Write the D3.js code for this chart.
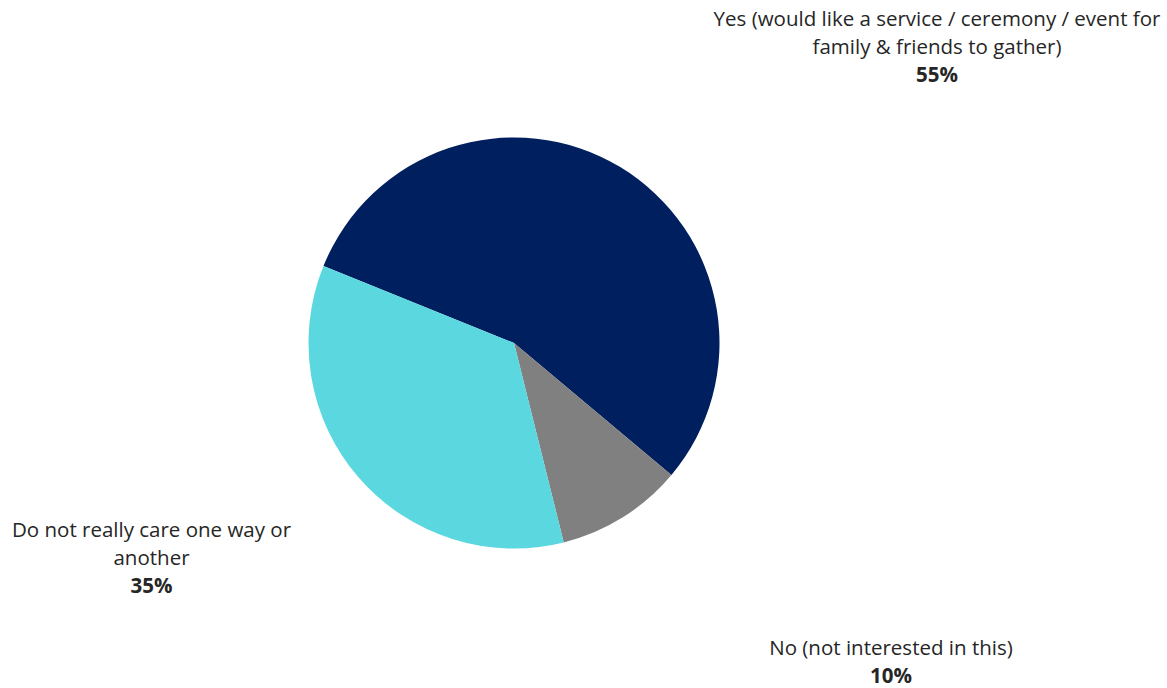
<!DOCTYPE html>
<html>
<head>
<meta charset="utf-8">
<script src="https://cdn.jsdelivr.net/npm/d3@7"></script>
<style>
  body { margin: 0; background: #fff; }
  text { font-family: "Open Sans", "Noto Sans", sans-serif; fill: #262626; }
</style>
</head>
<body>
<div id="chart"></div>
<script>
const categories = ["Yes (would like a service / ceremony / event for family & friends to gather)",
                    "No (not interested in this)",
                    "Do not really care one way or another"];
const values = [55, 10, 35];
const colors = ["#001F5E", "#808080", "#5BD8DF"];
// label lines as wrapped in the picture
const labelLines = [
  ["Yes (would like a service / ceremony / event for", "family & friends to gather)"],
  ["No (not interested in this)"],
  ["Do not really care one way or", "another"]
];
const labelPos = [[937, 19], [891, 648], [151.5, 530]];

const width = 1167, height = 688;
const cx = 514, cy = 343, radius = 205.5;
const lineH = 28;
const fontSize = "20.5px";

const svg = d3.select("#chart").append("svg")
  .attr("width", width)
  .attr("height", height);

const data = categories.map((c, i) => ({ name: c, value: values[i], color: colors[i], lines: labelLines[i], pos: labelPos[i] }));

const startAngle = -68 * Math.PI / 180;
const pie = d3.pie()
  .value(d => d.value)
  .sort(null)
  .startAngle(startAngle)
  .endAngle(startAngle + 2 * Math.PI);

const arc = d3.arc().innerRadius(0).outerRadius(radius);

svg.append("g")
  .attr("transform", `translate(${cx},${cy})`)
  .selectAll("path")
  .data(pie(data))
  .enter()
  .append("path")
  .attr("d", arc)
  .attr("fill", d => d.data.color);

const labels = svg.selectAll("g.label")
  .data(data)
  .enter()
  .append("g")
  .attr("class", "label")
  .attr("transform", d => `translate(${d.pos[0]},${d.pos[1]})`);

labels.each(function(d) {
  const g = d3.select(this);
  d.lines.forEach((l, i) => {
    g.append("text")
      .attr("x", 0)
      .attr("y", i * lineH)
      .attr("dy", "0.35em")
      .attr("text-anchor", "middle")
      .style("font-size", fontSize)
      .text(l);
  });
  g.append("text")
    .attr("x", 0)
    .attr("y", d.lines.length * lineH)
    .attr("dy", "0.35em")
    .attr("text-anchor", "middle")
    .style("font-size", fontSize)
    .style("font-weight", "bold")
    .text(d.value + "%");
});
</script>
</body>
</html>
